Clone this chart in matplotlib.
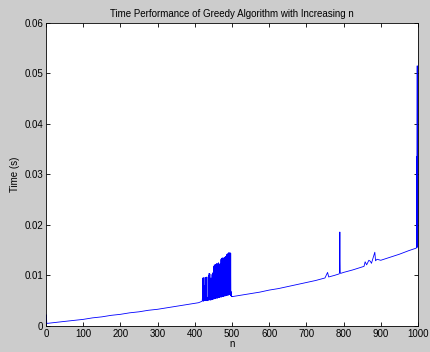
import matplotlib
matplotlib.use('Agg')
from matplotlib import pyplot as plt

# baseline timing, read every 25 n
base_n = [0, 1, 2, 25, 50, 75, 100, 125, 150, 175, 200, 225, 250, 275, 300,
          325, 350, 375, 400, 410, 500, 525, 550, 575, 600, 625, 650, 675,
          700, 725, 750, 757, 760, 775, 788, 792, 800, 825, 850, 875, 900,
          925, 950, 975, 995]
base_t = [0.0005, 0.0022, 0.0005, 0.0007, 0.0009, 0.0011, 0.0013, 0.0016,
          0.0018, 0.0021, 0.0023, 0.0026, 0.0028, 0.0031, 0.0033, 0.0036,
          0.0039, 0.0042, 0.0045, 0.0046, 0.0058, 0.0061, 0.0064, 0.0067,
          0.0071, 0.0074, 0.0078, 0.0082, 0.0086, 0.0090, 0.0095, 0.0106,
          0.0097, 0.0100, 0.0103, 0.0104, 0.0106, 0.0111, 0.0117, 0.0124,
          0.0130, 0.0136, 0.0142, 0.0149, 0.0154]

# burst of slow runs between n = 420 and 500
burst_n = list(range(420, 500))
burst_hi = [0.0055, 0.0095, 0.0094, 0.0056, 0.0096, 0.0054, 0.0055, 0.0080,
            0.0096, 0.0056, 0.0055, 0.0057, 0.0097, 0.0056, 0.0055, 0.0056,
            0.0058, 0.0100, 0.0104, 0.0057, 0.0103, 0.0056, 0.0058, 0.0095,
            0.0057, 0.0058, 0.0102, 0.0105, 0.0058, 0.0100, 0.0058, 0.0118,
            0.0121, 0.0059, 0.0119, 0.0122, 0.0060, 0.0060, 0.0120, 0.0124,
            0.0061, 0.0110, 0.0123, 0.0125, 0.0061, 0.0121, 0.0062, 0.0123,
            0.0062, 0.0120, 0.0132, 0.0130, 0.0134, 0.0063, 0.0133, 0.0135,
            0.0064, 0.0134, 0.0120, 0.0136, 0.0064, 0.0135, 0.0137, 0.0065,
            0.0138, 0.0140, 0.0142, 0.0066, 0.0143, 0.0141, 0.0144, 0.0145,
            0.0067, 0.0143, 0.0145, 0.0138, 0.0144, 0.0068, 0.0062, 0.0059]
burst_lo = [0.0049, 0.0050, 0.0052, 0.0049, 0.0051, 0.0050, 0.0053, 0.0050,
            0.0051, 0.0052, 0.0050, 0.0051, 0.0053, 0.0051, 0.0052, 0.0050,
            0.0052, 0.0053, 0.0051, 0.0052, 0.0054, 0.0052, 0.0053, 0.0051,
            0.0054, 0.0053, 0.0052, 0.0054, 0.0053, 0.0055, 0.0054, 0.0053,
            0.0055, 0.0054, 0.0056, 0.0055, 0.0054, 0.0056, 0.0055, 0.0057,
            0.0056, 0.0055, 0.0057, 0.0056, 0.0058, 0.0057, 0.0056, 0.0058,
            0.0057, 0.0059, 0.0058, 0.0057, 0.0059, 0.0058, 0.0060, 0.0059,
            0.0058, 0.0060, 0.0059, 0.0061, 0.0060, 0.0059, 0.0061, 0.0060,
            0.0062, 0.0061, 0.0060, 0.0062, 0.0061, 0.0063, 0.0062, 0.0061,
            0.0063, 0.0062, 0.0064, 0.0063, 0.0062, 0.0060, 0.0059, 0.0058]

# isolated spikes
spike_n = [789, 790, 791, 855, 858, 862, 868, 872, 880, 884, 886, 890,
           996, 996.5, 997, 998, 998.5, 999, 1000]
spike_t = [0.0105, 0.0186, 0.0106, 0.0118, 0.0127, 0.0121, 0.0130, 0.0128,
           0.0136, 0.0146, 0.0129, 0.0132, 0.0155, 0.0335, 0.0156, 0.0515,
           0.0160, 0.0330, 0.0155]

pts = list(zip(base_n, base_t)) + list(zip(spike_n, spike_t))
for i, n in enumerate(burst_n):
    pts.append((n, burst_lo[i]))
    pts.append((n + 0.5, burst_hi[i]))
pts.sort()
n_all = [p[0] for p in pts]
t_all = [p[1] for p in pts]

plt.rcParams['font.family'] = ['Liberation Sans', 'DejaVu Sans']
fig = plt.figure(figsize=(4.3, 3.52), dpi=100, facecolor='#cccccc')
ax = fig.add_axes([0.107, 0.074, 0.865, 0.861])
ax.plot(n_all, t_all, color='#0000ff', linewidth=0.6)
ax.set_xlim(0, 1000)
ax.set_ylim(0, 0.06)
ax.set_xticks(range(0, 1001, 100))
ax.set_yticks([0, 0.01, 0.02, 0.03, 0.04, 0.05, 0.06])
ax.set_yticklabels(['0', '0.01', '0.02', '0.03', '0.04', '0.05', '0.06'])
ax.tick_params(direction='in', top=True, right=True, labelsize=7, length=3,
               width=0.6, pad=2)
for s in ax.spines.values():
    s.set_linewidth(0.6)
ax.set_title('Time Performance of Greedy Algorithm with Increasing n',
             fontsize=7, pad=4)
ax.set_xlabel('n', fontsize=7, labelpad=0)
ax.set_ylabel('Time (s)', fontsize=7, labelpad=3)
fig.savefig('out.png', dpi=100, facecolor=fig.get_facecolor())
